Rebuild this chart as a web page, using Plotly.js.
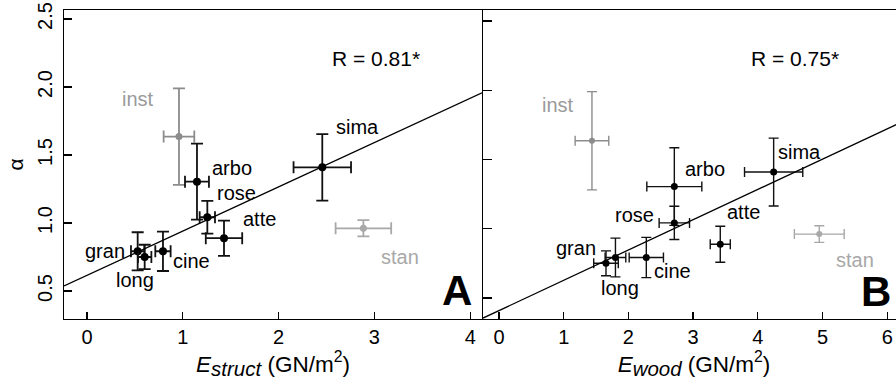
<!DOCTYPE html>
<html><head><meta charset="utf-8">
<script src="https://cdn.plot.ly/plotly-3.0.1.min.js"></script>
<style>html,body{margin:0;padding:0;background:#fff;overflow:hidden;width:896px;height:382px}#chart{width:910px;height:382px}</style>
</head><body><div id="chart"></div>
<script>
// ---- data ----
const species    = ['inst','arbo','rose','atte','gran','long','cine','sima','stan'];
const alpha      = [1.635, 1.304, 1.042, 0.888, 0.792, 0.750, 0.792, 1.409, 0.961];
const alphaErr   = [0.355, 0.280, 0.120, 0.130, 0.140, 0.090, 0.145, 0.245, 0.060];
const eStruct    = [0.960, 1.148, 1.256, 1.430, 0.529, 0.602, 0.793, 2.456, 2.885];
const eStructErr = [0.160, 0.125, 0.080, 0.190, 0.070, 0.070, 0.080, 0.300, 0.290];
const eWood      = [1.437, 2.710, 2.710, 3.420, 1.800, 1.654, 2.277, 4.245, 4.950];
const eWoodErr   = [0.260, 0.425, 0.235, 0.155, 0.160, 0.190, 0.265, 0.450, 0.385];
const excluded   = ['inst','stan'];   // grey points, not in the fit
const rLabels    = ['R = 0.81*', 'R = 0.75*'];
const panelTags  = ['A', 'B'];
const xTicksA = [0,1,2,3,4];
const xTicksB = [0,1,2,3,4,5,6];
const yTicks  = [0.5,1.0,1.5,2.0,2.5];
const yTickText = ['0.5','1.0','1.5','2.0','2.5'];

// ---- styling / label placement (px offsets from each point) ----
const FONT = 'Liberation Sans, Arial, Helvetica, sans-serif';
const greyOf = {inst:'#8c8c8c', stan:'#a8a8a8'};
const labelGrey = {inst:'#9a9a9a', stan:'#a8a8a8'};
const offA = {inst:[-41,38], arbo:[35,14], rose:[29,24], atte:[35,19], gran:[-33,0], long:[-10,-23], cine:[29,-10], sima:[35,40], stan:[37,-29]};
const offB = {inst:[-34,36], arbo:[31,18], rose:[-40,8], atte:[23,32], gran:[-39,10], long:[14,-25], cine:[26,-13], sima:[26,20], stan:[36,-26]};
const rangeXA = [-0.240, 4.123], rangeYA = [0.294, 2.566];
const rangeXB = [-0.247, 6.275], rangeYB = [0.348, 2.579];

function ols(xs, ys){
  const n = xs.length;
  const mx = xs.reduce((a,b)=>a+b,0)/n, my = ys.reduce((a,b)=>a+b,0)/n;
  let sxy=0, sxx=0;
  for(let i=0;i<n;i++){ sxy += (xs[i]-mx)*(ys[i]-my); sxx += (xs[i]-mx)**2; }
  const b = sxy/sxx; return {a: my - b*mx, b};
}

const traces = [];
const annotations = [];
function panel(ex, exErr, xa, ya, xr, off, thick, msize, capw){
  const fx=[], fy=[];
  species.forEach((s,i)=>{
    const isEx = excluded.includes(s);
    const col = isEx ? greyOf[s] : '#111';
    if(!isEx){ fx.push(ex[i]); fy.push(alpha[i]); }
    traces.push({
      type:'scatter', mode:'markers', x:[ex[i]], y:[alpha[i]], xaxis:xa, yaxis:ya,
      marker:{color: isEx ? greyOf[s] : '#000', size: isEx ? msize-1 : msize},
      error_x:{type:'data', array:[exErr[i]], color:col, thickness:thick, width:capw},
      error_y:{type:'data', array:[alphaErr[i]], color:col, thickness:thick, width:capw},
      hoverinfo:'skip', showlegend:false
    });
    annotations.push({x:ex[i], y:alpha[i], xref:xa, yref:ya, text:s, showarrow:false,
      xshift:off[s][0], yshift:off[s][1], xanchor:'center', yanchor:'middle',
      font:{family:FONT, size:20, color: isEx ? labelGrey[s] : '#000'}});
  });
  const f = ols(fx, fy);
  traces.push({type:'scatter', mode:'lines', x:xr, y:xr.map(v=>f.a+f.b*v), xaxis:xa, yaxis:ya,
    line:{color:'#000', width:1.3}, hoverinfo:'skip', showlegend:false, cliponaxis:true});
}
panel(eStruct, eStructErr, 'x', 'y', rangeXA, offA, 1.8, 8, 6);
panel(eWood, eWoodErr, 'x2', 'y2', rangeXB, offB, 1.4, 7, 5);

annotations.push({xref:'x', yref:'y', x:3.02, y:2.21, text:rLabels[0], showarrow:false, font:{family:FONT,size:21,color:'#000'}});
annotations.push({xref:'x2', yref:'y2', x:4.575, y:2.231, text:rLabels[1], showarrow:false, font:{family:FONT,size:21,color:'#000'}});
annotations.push({xref:'x', yref:'y', x:3.865, y:0.507, text:'<b>'+panelTags[0]+'</b>', showarrow:false, font:{family:FONT,size:42,color:'#000'}});
annotations.push({xref:'x2', yref:'y2', x:5.822, y:0.548, text:'<b>'+panelTags[1]+'</b>', showarrow:false, font:{family:FONT,size:42,color:'#000'}});

const axBase = {showline:true, linecolor:'#000', linewidth:1.3, ticks:'inside', tickwidth:1.3,
  tickcolor:'#000', showgrid:false, zeroline:false, tickfont:{family:FONT,size:20,color:'#000'}};
const xTitle = (sub)=>({text:'<i>E</i><sub><i><span style="font-size:130%">'+sub+'</span></i></sub> (GN/m<sup>2</sup>)',
  font:{family:FONT,size:22.5,color:'#000'}, standoff:0});

const W = 910, L = 64, R = 5;
const pw = W - L - R;
const layout = {
  width:W, height:382, margin:{l:L, r:R, t:10, b:63},
  paper_bgcolor:'#fff', plot_bgcolor:'#fff',
  xaxis: Object.assign({}, axBase, {domain:[0,(482-L)/pw], range:rangeXA, mirror:true, ticklen:7,
    tickvals:xTicksA, title:xTitle('struct'), anchor:'y'}),
  yaxis: Object.assign({}, axBase, {domain:[0,1], range:rangeYA, mirror:true, ticklen:8,
    tickvals:yTicks, ticktext:yTickText, tickangle:-90, anchor:'x', ticklabelstandoff:3,
    title:{text:'α', font:{family:FONT,size:21,color:'#000'}, standoff:4}}),
  xaxis2: Object.assign({}, axBase, {domain:[(483-L)/pw,1], range:rangeXB, mirror:true, ticklen:7,
    tickvals:xTicksB, title:xTitle('wood'), anchor:'y2'}),
  yaxis2: Object.assign({}, axBase, {domain:[0,1], range:rangeYB, mirror:false, ticklen:9,
    tickvals:yTicks, showticklabels:false, anchor:'x2'}),
  annotations: annotations
};
Plotly.newPlot('chart', traces, layout, {staticPlot:true, displayModeBar:false});
</script></body></html>
